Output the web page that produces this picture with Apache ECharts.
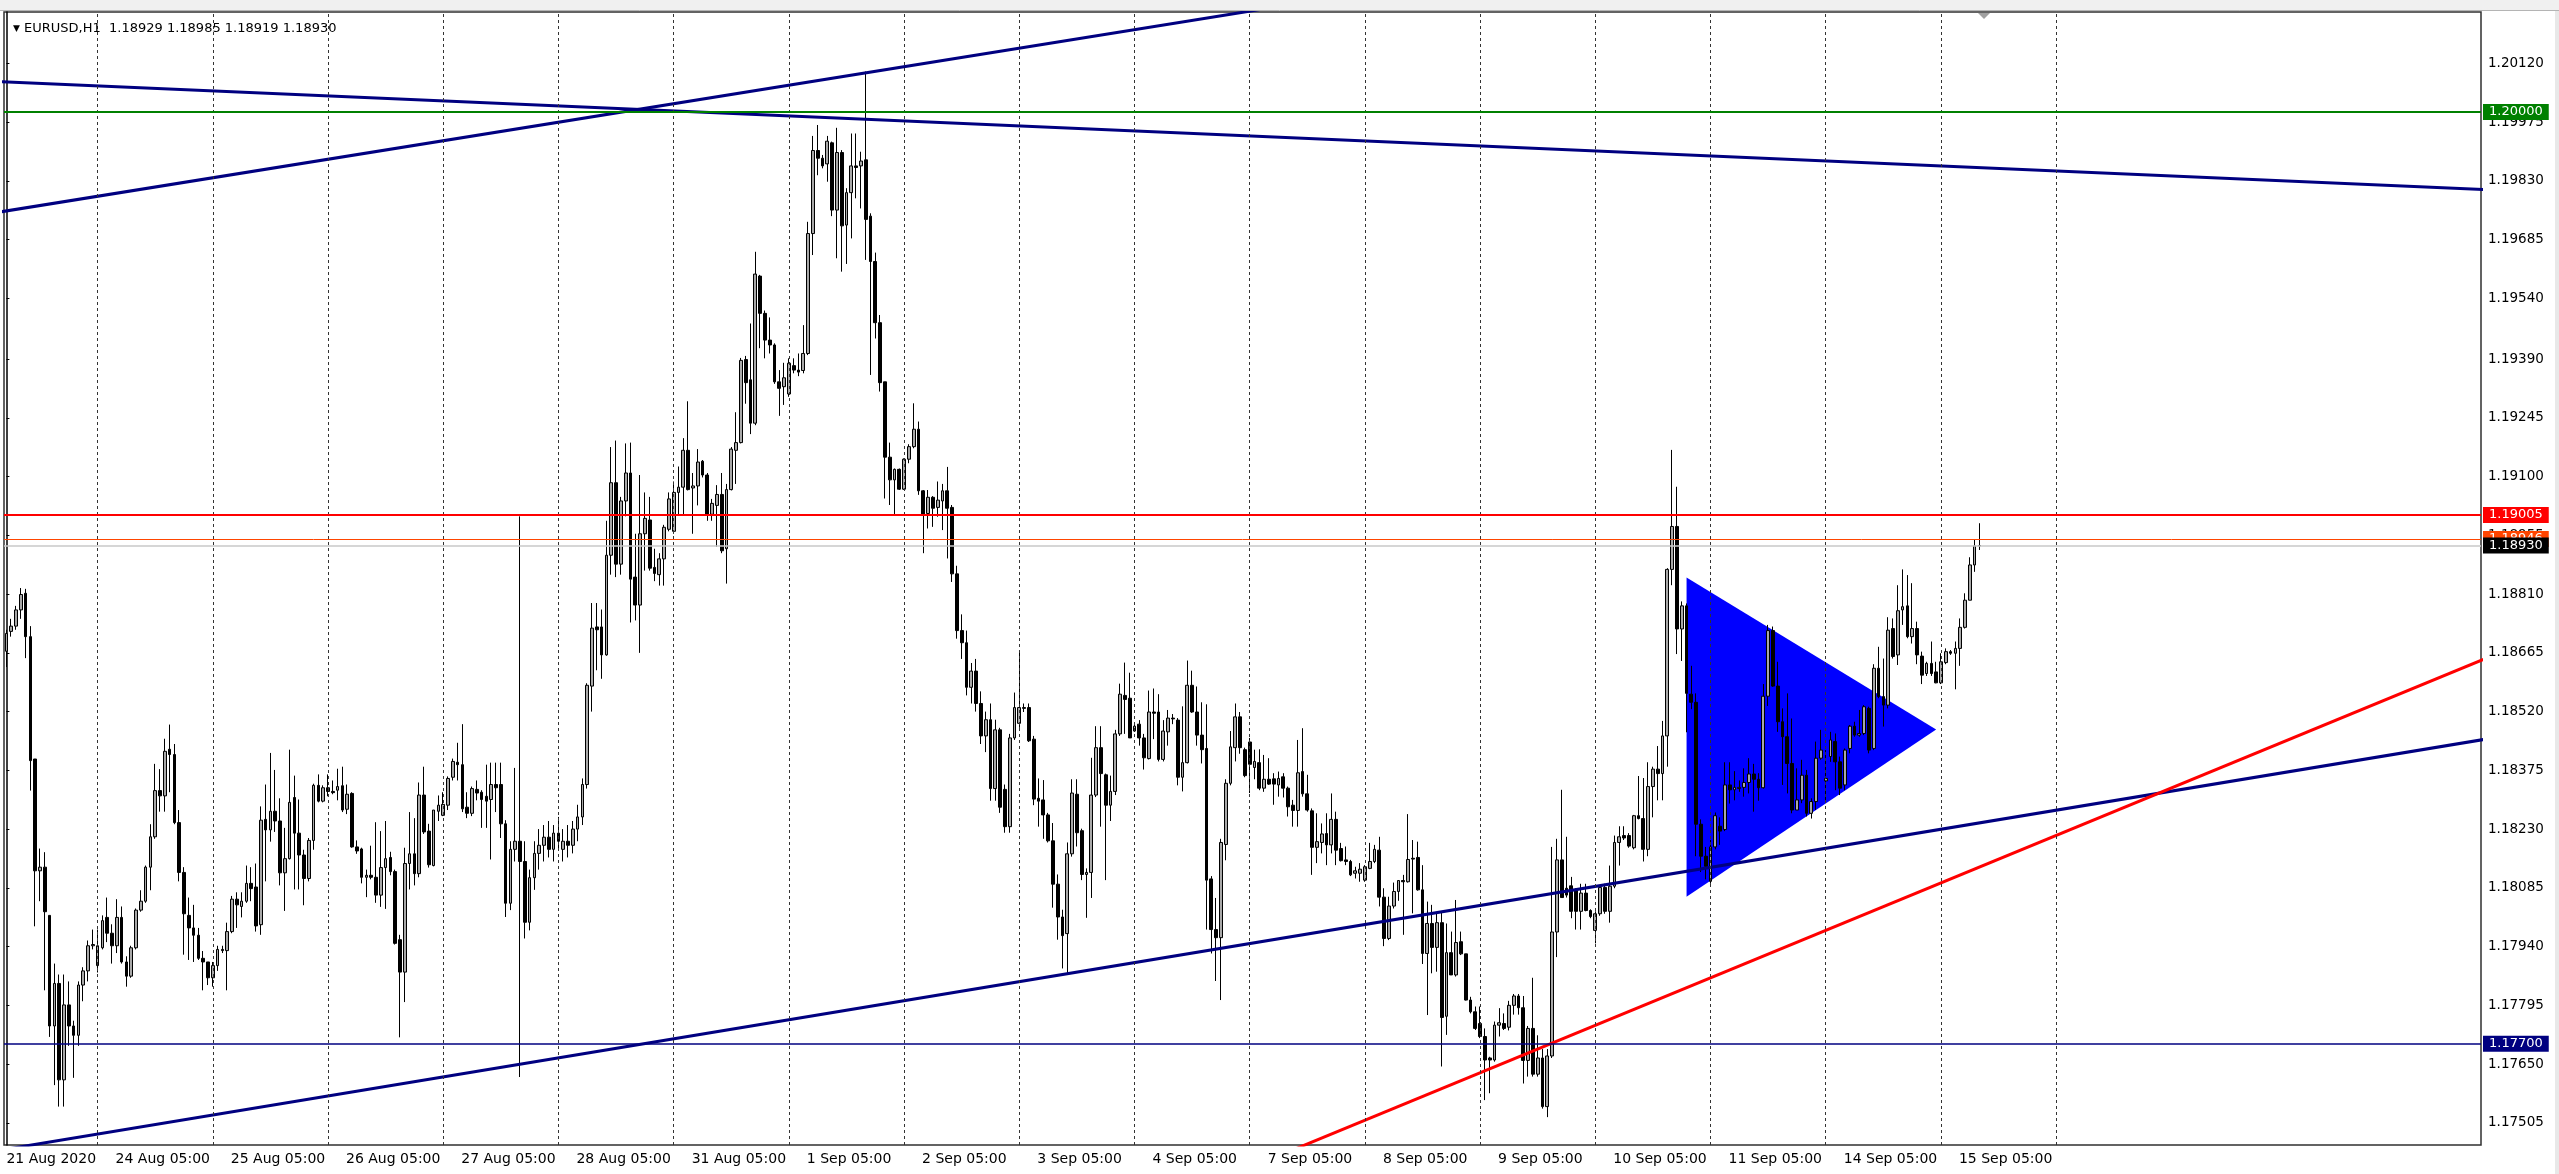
<!DOCTYPE html>
<html><head><meta charset="utf-8">
<script src="https://cdn.jsdelivr.net/npm/echarts/dist/echarts.min.js"></script>
<style>html,body{margin:0;padding:0;background:#fff}#c{width:2559px;height:1174px}</style>
</head><body><div id="c"></div>
<script>
// Prices are stored as points (1e-5) above BASE: price = BASE + pts / 1e5
const BASE = 1.17;
// hourly candles [open, high, low, close]
const candlePts = [
[1669,1722,1630,1713],[1718,1749,1705,1731],[1731,1781,1722,1771],[1771,1825,1749,1809],[1812,1823,1652,1705],
[1705,1731,1325,1399],[1403,1403,990,1127],[1127,1182,1052,1136],[1136,1173,832,1026],[1017,1017,717,744],
[744,898,598,849],[849,871,545,611],[611,871,545,796],[796,854,695,744],[744,757,616,721],
[721,854,695,845],[845,889,805,880],[880,955,854,942],[942,982,933,945],[893,982,876,942],
[937,1017,933,1004],[1012,1061,951,973],[973,995,898,942],[942,1057,924,1012],[1012,1039,898,902],
[902,916,841,867],[867,942,863,937],[937,1034,933,1030],[1030,1079,1026,1052],[1052,1140,1048,1136],
[1136,1242,1079,1211],[1211,1391,1206,1325],[1325,1378,1273,1312],[1312,1453,1273,1422],[1427,1488,1321,1414],
[1414,1440,1242,1246],[1246,1277,1101,1123],[1123,1136,920,1021],[1017,1061,907,986],[986,1043,902,968],
[968,986,907,911],[911,929,832,902],[902,902,845,863],[863,902,841,893],[893,942,880,933],
[933,942,924,930],[930,999,832,977],[977,1065,973,1057],[1057,1074,986,1043],[1039,1074,1012,1052],
[1052,1140,1048,1096],[1096,1136,1052,1083],[1087,1145,977,991],[994,1286,969,1252],[1254,1340,1101,1228],
[1228,1418,1199,1274],[1274,1376,1223,1250],[1250,1306,1091,1122],[1122,1233,1028,1157],[1157,1426,1155,1296],
[1308,1362,1081,1220],[1220,1303,1081,1166],[1166,1179,1042,1108],[1108,1208,1101,1202],[1202,1342,1179,1338],
[1338,1365,1296,1299],[1299,1338,1296,1332],[1332,1365,1311,1323],[1323,1350,1316,1320],[1326,1379,1301,1335],
[1337,1384,1272,1277],[1279,1340,1267,1316],[1318,1321,1184,1186],[1186,1202,1169,1176],[1181,1184,1096,1111],
[1111,1130,1062,1116],[1116,1189,1106,1111],[1111,1247,1048,1067],[1067,1225,1038,1135],[1135,1250,1033,1157],
[1160,1174,1116,1125],[1125,1130,945,948],[957,969,716,877],[877,1184,803,1145],[1145,1272,1081,1169],
[1169,1257,1091,1120],[1120,1345,1111,1314],[1314,1384,1218,1223],[1225,1243,1135,1142],[1140,1277,1138,1277],
[1274,1313,1250,1289],[1264,1321,1262,1291],[1289,1360,1277,1355],[1358,1404,1350,1397],[1395,1443,1350,1389],
[1389,1489,1272,1280],[1284,1321,1257,1269],[1269,1335,1262,1330],[1328,1350,1301,1319],[1321,1326,1233,1303],
[1311,1389,1233,1299],[1303,1394,1155,1340],[1340,1394,1272,1332],[1340,1394,1208,1243],[1243,1252,1013,1047],
[1047,1200,1030,1180],[1180,1381,1150,1200],[1200,2002,618,1150],[1150,1200,960,1000],[1000,1130,980,1110],
[1110,1200,1080,1170],[1170,1230,1130,1190],[1190,1240,1150,1210],[1210,1250,1160,1180],[1180,1240,1150,1220],
[1220,1260,1180,1200],[1180,1230,1150,1200],[1200,1240,1160,1190],[1190,1250,1170,1230],[1230,1290,1200,1260],
[1260,1355,1240,1340],[1340,1590,1330,1585],[1583,1788,1520,1726],[1729,1788,1622,1722],[1729,1772,1601,1660],
[1660,1991,1658,1906],[1906,2173,1858,2085],[2085,2189,1852,1884],[1884,2050,1858,2040],[2040,2182,2002,2109],
[2109,2184,1740,1847],[1852,1959,1745,1783],[1783,2104,1665,1959],[1959,2061,1868,1997],[1993,2050,1868,1874],
[1876,1922,1842,1861],[1858,1911,1831,1897],[1897,1981,1831,1975],[1970,2061,1965,2045],[1965,2088,1959,2061],
[2061,2125,2007,2074],[2074,2195,2007,2165],[2165,2286,2066,2068],[2072,2109,1959,2077],[2077,2168,2029,2136],
[2138,2141,2098,2104],[2104,2109,1991,2007],[2007,2045,1991,2034],[2029,2079,1927,2056],[2056,2109,1911,1917],
[1922,2082,1836,2068],[2068,2173,2066,2168],[2165,2259,2082,2184],[2184,2393,2182,2387],[2389,2398,2280,2332],
[2339,2478,2205,2232],[2232,2655,2227,2600],[2595,2598,2417,2503],[2503,2510,2392,2437],[2437,2493,2404,2425],
[2425,2429,2329,2334],[2334,2363,2250,2318],[2322,2381,2277,2344],[2304,2392,2297,2380],[2374,2392,2355,2363],
[2363,2404,2348,2358],[2362,2474,2355,2404],[2404,2729,2400,2700],[2700,2941,2647,2905],[2905,2968,2844,2886],
[2886,2894,2861,2867],[2872,2941,2828,2928],[2924,2927,2743,2758],[2758,2961,2639,2900],[2900,2906,2606,2719],
[2721,2812,2625,2801],[2801,2947,2688,2867],[2867,2947,2787,2863],[2867,2902,2762,2879],[2882,3100,2635,2735],
[2743,2750,2351,2631],[2631,2653,2441,2480],[2480,2499,2310,2332],[2334,2334,2046,2148],[2148,2184,2030,2092],
[2092,2120,2005,2118],[2118,2120,2067,2069],[2069,2145,2067,2143],[2143,2180,2133,2174],[2174,2281,2170,2217],
[2217,2236,2055,2065],[2065,2067,1911,2005],[2009,2067,1972,2049],[2049,2052,1976,2022],[2024,2088,2001,2042],
[2040,2082,1968,2065],[2065,2124,1898,2022],[2024,2030,1840,1860],[1860,1880,1700,1720],[1720,1760,1650,1690],
[1690,1720,1560,1580],[1580,1640,1540,1620],[1620,1650,1520,1540],[1540,1570,1440,1460],[1460,1520,1420,1500],
[1500,1540,1300,1330],[1330,1500,1300,1475],[1475,1480,1270,1284],[1328,1340,1221,1236],[1236,1465,1221,1455],
[1455,1567,1450,1530],[1491,1665,1480,1530],[1530,1540,1519,1528],[1530,1540,1445,1448],[1452,1460,1289,1304],
[1306,1355,1236,1299],[1302,1351,1206,1265],[1265,1270,1197,1201],[1201,1245,1036,1094],[1094,1118,957,1013],
[1013,1031,886,967],[972,1197,874,1169],[1169,1353,1162,1319],[1316,1353,1187,1221],[1226,1231,1104,1118],
[1118,1133,1011,1123],[1123,1406,1060,1314],[1314,1484,1309,1431],[1431,1484,1236,1367],[1364,1367,1104,1289],
[1289,1362,1250,1323],[1323,1475,1314,1465],[1465,1589,1460,1563],[1560,1641,1465,1550],[1553,1616,1455,1455],
[1472,1494,1470,1484],[1489,1499,1436,1455],[1455,1465,1377,1406],[1404,1572,1402,1519],[1519,1577,1452,1516],
[1519,1563,1397,1402],[1402,1499,1397,1472],[1470,1524,1436,1504],[1504,1514,1489,1502],[1499,1504,1338,1358],
[1358,1533,1323,1394],[1394,1646,1392,1585],[1585,1621,1517,1519],[1519,1582,1436,1462],[1462,1543,1392,1426],
[1429,1538,982,1104],[1107,1114,923,982],[982,1060,855,962],[962,1206,808,1197],[1192,1353,1153,1343],
[1343,1472,1338,1433],[1431,1540,1397,1507],[1507,1519,1416,1431],[1426,1431,1358,1362],[1445,1455,1319,1390],
[1382,1426,1353,1397],[1394,1427,1326,1331],[1331,1413,1322,1353],[1353,1405,1339,1341],[1354,1368,1290,1341],
[1339,1372,1310,1355],[1359,1368,1308,1331],[1331,1335,1261,1285],[1289,1302,1236,1276],[1276,1450,1236,1369],
[1372,1479,1310,1317],[1317,1364,1273,1277],[1275,1281,1117,1185],[1185,1269,1146,1199],[1197,1244,1170,1218],
[1219,1269,1141,1191],[1191,1318,1170,1254],[1254,1273,1141,1178],[1182,1196,1150,1152],[1154,1187,1141,1150],
[1150,1154,1114,1117],[1121,1137,1108,1127],[1121,1146,1100,1131],[1104,1141,1100,1137],[1133,1196,1131,1150],
[1150,1191,1146,1180],[1178,1211,1039,1062],[1062,1084,941,960],[960,1063,956,1040],[1040,1098,1034,1076],
[1076,1104,1053,1103],[1103,1117,969,1100],[1100,1267,1098,1155],[1158,1203,1022,1156],[1160,1199,1078,1080],
[1080,1141,897,923],[923,1051,771,997],[997,1043,874,938],[938,1022,878,999],[999,1026,644,765],
[768,997,722,925],[925,977,870,870],[870,1055,866,950],[952,977,919,922],[922,922,807,808],
[808,816,775,779],[779,792,734,738],[750,792,714,718],[718,738,561,660],[665,668,578,660],
[660,755,656,746],[746,788,718,752],[750,775,734,738],[741,806,733,795],[795,823,772,818],
[818,823,772,789],[789,818,602,659],[659,744,619,738],[738,863,619,625],[625,721,619,665],
[665,687,540,545],[545,687,519,670],[670,1186,665,976],[976,1206,914,1154],[1154,1327,1061,1061],
[1084,1211,1061,1067],[1090,1112,1010,1027],[1078,1084,982,1027],[1027,1095,982,1072],[1072,1095,1027,1029],
[1029,1032,1010,1014],[980,1027,948,1021],[1021,1089,1016,1086],[1086,1095,1021,1027],[1027,1140,999,1089],
[1089,1214,1084,1197],[1197,1237,1140,1211],[1214,1237,1203,1208],[1214,1220,1184,1188],[1184,1265,1180,1263],
[1263,1361,1254,1256],[1256,1356,1150,1180],[1180,1395,1163,1335],[1335,1384,1259,1378],[1378,1435,1301,1367],
[1367,1497,1301,1460],[1460,1874,1384,1871],[1871,2166,1832,1977],[1977,2075,1662,1724],[1724,1792,1645,1781],
[1781,1787,1469,1565],[1563,1633,1526,1543],[1543,1565,1163,1242],[1242,1254,1124,1163],[1163,1186,1106,1138],
[1101,1203,1095,1186],[1186,1271,1180,1263],[1237,1259,1191,1225],[1229,1395,1225,1339],[1339,1395,1293,1327],
[1327,1373,1301,1333],[1330,1350,1322,1333],[1333,1380,1310,1345],[1345,1405,1318,1366],[1366,1391,1273,1353],
[1353,1368,1300,1332],[1332,1588,1330,1558],[1558,1734,1534,1720],[1720,1730,1581,1583],[1583,1643,1470,1495],
[1495,1528,1339,1458],[1458,1565,1318,1392],[1392,1503,1269,1277],[1277,1380,1277,1302],[1302,1401,1294,1363],
[1363,1376,1261,1269],[1269,1306,1256,1298],[1298,1446,1277,1405],[1405,1475,1401,1425],[1349,1425,1298,1355],
[1409,1470,1396,1450],[1446,1466,1326,1396],[1396,1409,1314,1331],[1339,1429,1326,1425],[1429,1487,1417,1484],
[1484,1495,1458,1462],[1462,1524,1458,1466],[1466,1536,1462,1532],[1528,1532,1417,1425],[1429,1637,1425,1627],
[1627,1680,1553,1557],[1557,1651,1483,1536],[1536,1753,1528,1721],[1725,1750,1651,1656],[1660,1832,1635,1769],
[1771,1871,1734,1779],[1781,1857,1701,1705],[1705,1837,1688,1725],[1725,1742,1637,1660],[1657,1668,1588,1610],
[1614,1643,1608,1639],[1639,1693,1608,1614],[1618,1643,1590,1591],[1591,1664,1588,1643],[1641,1676,1637,1668],
[1668,1672,1660,1664],[1664,1693,1575,1676],[1676,1750,1633,1728],[1728,1812,1725,1795],[1795,1901,1795,1882],
[1882,1944,1865,1929],[1929,1985,1919,1930]
];
const SLOTS = 516; // bar slots on the time axis (incl. empty right margin)
const tickLabels = ['21 Aug 2020','24 Aug 05:00','25 Aug 05:00','26 Aug 05:00','27 Aug 05:00','28 Aug 05:00','31 Aug 05:00','1 Sep 05:00','2 Sep 05:00','3 Sep 05:00','4 Sep 05:00','7 Sep 05:00','8 Sep 05:00','9 Sep 05:00','10 Sep 05:00','11 Sep 05:00','14 Sep 05:00','15 Sep 05:00'];
const tickBars = [0,19,43,67,91,115,139,163,187,211,235,259,283,307,331,355,379,403];
const gridBars = [19,43,67,91,115,139,163,187,211,235,259,283,307,331,355,379,403,427];
const yTicks = [1.17505,1.17650,1.17795,1.17940,1.18085,1.18230,1.18375,1.18520,1.18665,1.18810,1.18955,1.19100,1.19245,1.19390,1.19540,1.19685,1.19830,1.19975,1.20120];
const levelPrices = [1.20000,1.19005,1.18946,1.18930,1.17700];
const levelLabels = ['1.20000','1.19005','1.18946','1.18930','1.17700'];
const trendUpRising = [[-1,1.19754],[300,1.20327]];
const trendUpFalling = [[-1,1.20075],[516,1.19809]];
const trendLowRising = [[-1,1.17438],[516,1.18451]];
const trendRed = [[260,1.17399],[516,1.18649]];
const triangle = [[350,1.18851],[402,1.18476],[350,1.18063]];
const titleText = 'EURUSD,H1  1.18929 1.18985 1.18919 1.18930';

const toP = v => +(BASE + v / 1e5).toFixed(5);
const ohlc = candlePts.map(c => [toP(c[0]), toP(c[3]), toP(c[2]), toP(c[1])]);
const cats = Array.from({length: SLOTS}, (_, i) => String(i));
const labelMap = {};
tickBars.forEach((b, k) => { labelMap[b] = tickLabels[k]; });

const FONT = 'DejaVu Sans';
const levelStyles = [
  {line: '#008000', w: 2, bg: '#008000'},
  {line: '#ff0000', w: 2, bg: '#ff0000'},
  {line: '#ff4500', w: 1, bg: '#ff4500'},
  {line: '#c8c8c8', w: 1.5, bg: '#000000'},
  {line: '#000080', w: 1.5, bg: '#000080'}
];

const chart = echarts.init(document.getElementById('c'), null, {renderer: 'canvas'});
const trendSeries = (data, color) => ({
  type: 'line', xAxisIndex: 1, yAxisIndex: 0, data: data, showSymbol: false, symbol: 'none',
  lineStyle: {color: color, width: 3}, z: 4, silent: true, clip: true, animation: false
});

chart.setOption({
  animation: false,
  backgroundColor: '#ffffff',
  title: {
    left: 8, top: 17,
    text: '{a|▼} ' + titleText,
    textStyle: {
      fontFamily: FONT, fontSize: 13, fontWeight: 'normal', color: '#000',
      rich: {a: {fontSize: 9, fontFamily: FONT, color: '#000'}}
    }
  },
  graphic: [
    {type: 'rect', shape: {x: 0, y: 0, width: 2559, height: 10}, style: {fill: '#f0f0f0'}, z: 100},
    {type: 'line', shape: {x1: 0, y1: 10.5, x2: 2559, y2: 10.5}, style: {stroke: '#b4b4b4', lineWidth: 1}, z: 100},
    {type: 'rect', shape: {x: 2555, y: 11, width: 4, height: 1163}, style: {fill: '#e8e8e8'}, z: 100},
    {type: 'polygon', shape: {points: [[1978, 13], [1990, 13], [1984, 19]]}, style: {fill: '#a0a0a0'}, z: 100}
  ],
  grid: {left: 4, right: 78, top: 12, bottom: 29, show: true, borderColor: '#303030', borderWidth: 1.5, backgroundColor: '#fff'},
  xAxis: [
    {
      type: 'category', data: cats, boundaryGap: true, gridIndex: 0,
      axisLine: {show: false}, axisTick: {show: false}, splitLine: {show: false},
      axisLabel: {
        interval: (idx) => labelMap[idx] !== undefined,
        formatter: (val) => {
          const i = +val;
          if (labelMap[i] === undefined) return '';
          return i === 0 ? '{f|' + labelMap[i] + '}' : '{o|' + labelMap[i] + '}';
        },
        align: 'left', margin: 7, color: '#000', fontFamily: FONT, fontSize: 14,
        rich: {
          f: {fontFamily: FONT, fontSize: 14, color: '#000', padding: [0, 0, 0, 0]},
          o: {fontFamily: FONT, fontSize: 14, color: '#000', padding: [0, 0, 0, 18]}
        }
      }
    },
    {type: 'value', min: -0.5, max: SLOTS - 0.5, show: false, gridIndex: 0}
  ],
  yAxis: [{
    type: 'value', position: 'right', min: 1.174502, max: 1.202469, scale: true,
    axisLine: {show: true, lineStyle: {color: '#000', width: 1.5}},
    axisTick: {show: true, length: 3, customValues: yTicks, lineStyle: {color: '#000'}},
    axisLabel: {customValues: yTicks, formatter: v => v.toFixed(5), margin: 7, color: '#000', fontFamily: FONT, fontSize: 13.5},
    splitLine: {show: false}
  }],
  series: [
    {
      type: 'custom', xAxisIndex: 1, yAxisIndex: 0, data: triangle, z: 1, silent: true,
      encode: {x: 0, y: 1},
      renderItem: (params, api) => {
        if (params.dataIndex !== 0) return null;
        const pts = triangle.map(p => api.coord(p));
        return {type: 'polygon', shape: {points: pts}, style: {fill: '#0000ff'}};
      }
    },
    {
      type: 'line', xAxisIndex: 1, yAxisIndex: 0, data: [], z: 1, silent: true,
      markLine: {
        silent: true, symbol: 'none', animation: false, precision: 5, label: {show: false},
        lineStyle: {color: '#333333', width: 1, type: [3, 3]},
        data: gridBars.map(b => ({xAxis: b}))
      }
    },
    {
      type: 'candlestick', xAxisIndex: 0, yAxisIndex: 0, data: ohlc, z: 2, barWidth: 3.2, silent: true,
      itemStyle: {color: '#a8a8a8', color0: '#000000', borderColor: '#000000', borderColor0: '#000000', borderWidth: 1}
    },
    trendSeries(trendUpRising, '#000080'),
    trendSeries(trendUpFalling, '#000080'),
    trendSeries(trendLowRising, '#000080'),
    trendSeries(trendRed, '#ff0000'),
    {
      type: 'line', xAxisIndex: 0, yAxisIndex: 0, data: [], z: 5, silent: true,
      markLine: {
        silent: true, symbol: 'none', animation: false, precision: 5,
        data: levelPrices.map((p, k) => ({
          yAxis: p,
          lineStyle: {color: levelStyles[k].line, width: levelStyles[k].w, type: 'solid'},
          label: {
            show: true, position: 'end', formatter: levelLabels[k], distance: 2,
            backgroundColor: levelStyles[k].bg, color: '#fff', padding: [2, 6, 1, 6],
            fontSize: 13, fontFamily: FONT
          }
        }))
      }
    }
  ]
});
</script>
</body></html>
